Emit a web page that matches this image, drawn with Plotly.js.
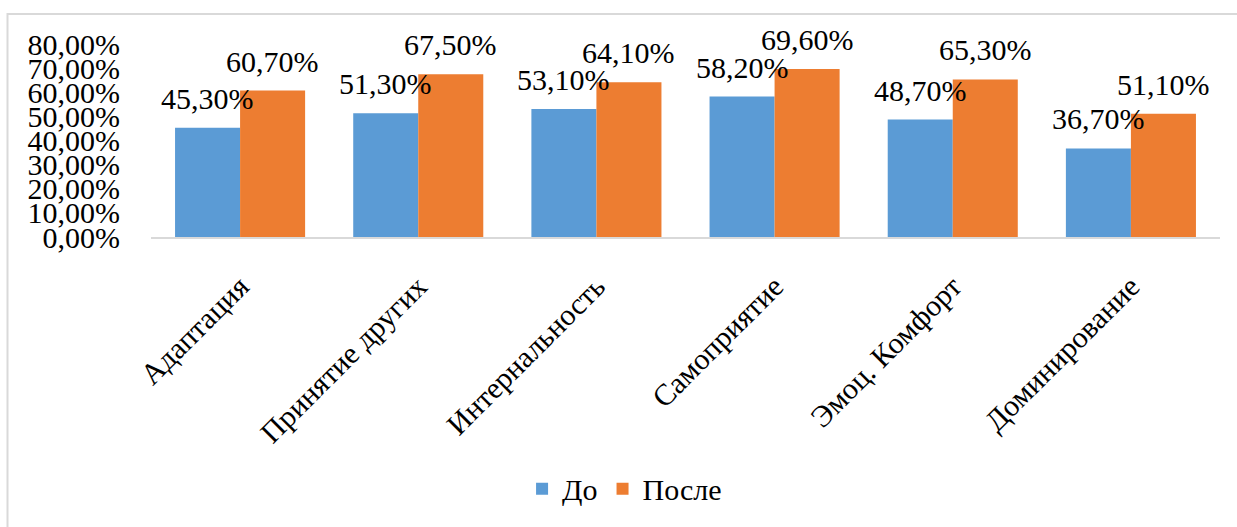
<!DOCTYPE html>
<html>
<head>
<meta charset="utf-8">
<script src="https://cdn.plot.ly/plotly-3.0.1.min.js"></script>
<style>html,body{margin:0;padding:0;background:#fff;}#chart{width:1237px;height:527px;}</style>
</head>
<body>
<div id="chart"></div>
<script>
var categories = ["Адаптация", "Принятие других", "Интернальность", "Самоприятие", "Эмоц. Комфорт", "Доминирование"];
var seriesNames = ["До", "После"];
var valuesBefore = [0.453, 0.513, 0.531, 0.582, 0.487, 0.367];
var valuesAfter = [0.607, 0.675, 0.641, 0.696, 0.653, 0.511];
var yTickValues = [0, 0.1, 0.2, 0.3, 0.4, 0.5, 0.6, 0.7, 0.8];

var FONT = '"Liberation Serif", "Times New Roman", serif';
var FS = 30;
var colors = ["#5B9BD5", "#ED7D31"];
function fmt(v){ return (v*100).toFixed(2).replace('.', ',') + '%'; }

var traces = [
  {type:'bar', name:seriesNames[0], x:categories, y:valuesBefore, marker:{color:colors[0]}, hoverinfo:'none'},
  {type:'bar', name:seriesNames[1], x:categories, y:valuesAfter, marker:{color:colors[1]}, hoverinfo:'none'}
];

var bargap = 0.27;
var half = (1 - bargap) / 4;
var annotations = [];
[valuesBefore, valuesAfter].forEach(function(vals, s){
  vals.forEach(function(v, i){
    annotations.push({
      x: i + (s === 0 ? -half : half), y: v, xref:'x', yref:'y',
      text: fmt(v), showarrow:false, yanchor:'bottom', yshift:11,
      font:{family:FONT, size:FS, color:'#000'}
    });
  });
});

var plotL = 151, plotR = 1220, plotT = 43.5, plotB = 239;
var W = 1237, H = 527;
var pw = plotR - plotL, ph = plotB - plotT;
function px(x){ return (x - plotL) / pw; }
function py(y){ return (plotB - y) / ph; }

var layout = {
  width: W, height: H,
  margin:{l:plotL, r:W-plotR, t:plotT, b:H-plotB, pad:0},
  paper_bgcolor:'#fff', plot_bgcolor:'#fff',
  separators: ', ',
  barmode:'group', bargap:bargap, bargroupgap:0,
  font:{family:FONT, size:FS, color:'#000'},
  xaxis:{
    type:'category', tickangle:-45, showgrid:false, zeroline:false,
    showline:true, linecolor:'#d9d9d9', linewidth:2,
    ticks:'', tickfont:{family:FONT, size:FS, color:'#000'},
    ticklabelstandoff: 18
  },
  yaxis:{
    range:[0, 0.8], tickvals:yTickValues, tickformat:'.2%',
    showgrid:false, zeroline:false, showline:false, ticks:'',
    tickfont:{family:FONT, size:FS, color:'#000'},
    ticklabelstandoff: 30
  },
  showlegend:true,
  legend:{orientation:'h', x:0.443, xanchor:'center', y:py(494), yanchor:'middle',
    font:{family:FONT, size:FS, color:'#000'}, itemwidth:30, traceorder:'normal'},
  annotations: annotations,
  shapes:[{type:'rect', xref:'paper', yref:'paper', x0:px(7.5), x1:px(1300), y0:py(600), y1:py(13),
    line:{color:'#d9d9d9', width:2}, fillcolor:'rgba(0,0,0,0)', layer:'below'}]
};

Plotly.newPlot('chart', traces, layout, {staticPlot:true, displayModeBar:false});
</script>
</body>
</html>
